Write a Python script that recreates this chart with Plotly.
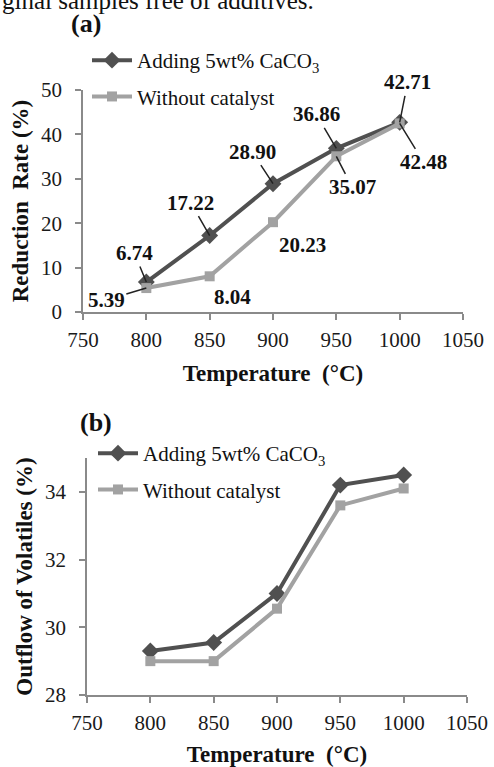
import plotly.graph_objects as go

temps = [800, 850, 900, 950, 1000]
reduction_caco3 = [6.74, 17.22, 28.90, 36.86, 42.71]
reduction_none = [5.39, 8.04, 20.23, 35.07, 42.48]
outflow_caco3 = [29.3, 29.55, 31.0, 34.2, 34.5]
outflow_none = [29.0, 29.0, 30.55, 33.6, 34.1]
name_caco3 = "Adding 5wt% CaCO<sub>3</sub>"
name_none = "Without catalyst"
xticks = [750, 800, 850, 900, 950, 1000, 1050]

DARK = "#505050"
LIGHT = "#a2a2a2"
AX = "#8a8a8a"
FONT = "Liberation Serif"

W, H = 494, 767
def px(v): return v / W
def py(v): return 1 - v / H

fig = go.Figure()
# (a)
fig.add_trace(go.Scatter(x=temps, y=reduction_caco3, name=name_caco3, mode="lines+markers",
                         line=dict(color=DARK, width=4), marker=dict(symbol="diamond", size=13, color=DARK),
                         xaxis="x", yaxis="y", legend="legend", legendgroup="a1"))
fig.add_trace(go.Scatter(x=temps, y=reduction_none, name=name_none, mode="lines+markers",
                         line=dict(color=LIGHT, width=4), marker=dict(symbol="square", size=10, color=LIGHT),
                         xaxis="x", yaxis="y", legend="legend", legendgroup="a2"))
# (b)
fig.add_trace(go.Scatter(x=temps, y=outflow_caco3, name=name_caco3, mode="lines+markers",
                         line=dict(color=DARK, width=4), marker=dict(symbol="diamond", size=13, color=DARK),
                         xaxis="x2", yaxis="y2", legend="legend2", legendgroup="b1"))
fig.add_trace(go.Scatter(x=temps, y=outflow_none, name=name_none, mode="lines+markers",
                         line=dict(color=LIGHT, width=4), marker=dict(symbol="square", size=10, color=LIGHT),
                         xaxis="x2", yaxis="y2", legend="legend2", legendgroup="b2"))

axis_common = dict(showline=True, linecolor=AX, linewidth=1.5, ticks="outside", ticklen=6,
                   tickcolor=AX, tickwidth=1.5, showgrid=False, zeroline=False, automargin=False,
                   tickfont=dict(family=FONT, size=21, color="#1a1a1a"))
title_font = dict(family=FONT, size=23, color="#111")

fig.update_layout(
    template="none",
    width=W, height=H, margin=dict(l=0, r=0, t=0, b=0, autoexpand=False),
    paper_bgcolor="white", plot_bgcolor="white",
    showlegend=True,
    xaxis=dict(domain=[px(83), px(463)], range=[750, 1050], tickvals=xticks, anchor="y",
               title=dict(text="<b>Temperature  (°C)</b>", font=title_font, standoff=14),
               ticklabelstandoff=2, **axis_common),
    yaxis=dict(domain=[py(312), py(90)], range=[0, 50], dtick=10, anchor="x",
               title=dict(text="<b>Reduction  Rate (%)</b>", font=title_font, standoff=6),
               ticklabelstandoff=9, **axis_common),
    xaxis2=dict(domain=[px(87), px(467)], range=[750, 1050], tickvals=xticks, anchor="y2",
                title=dict(text="<b>Temperature  (°C)</b>", font=title_font, standoff=12),
                ticklabelstandoff=2, **axis_common),
    yaxis2=dict(domain=[py(695), py(458)], range=[28, 35], tickvals=[28, 30, 32, 34], anchor="x2",
                title=dict(text="<b>Outflow of Volatiles (%)</b>", font=title_font, standoff=6),
                ticklabelstandoff=9, **axis_common),
    legend=dict(x=px(87), y=py(40), xanchor="left", yanchor="top", bgcolor="rgba(0,0,0,0)",
                font=dict(family=FONT, size=21, color="#111"), tracegroupgap=6, itemwidth=40),
    legend2=dict(x=px(93), y=py(433), xanchor="left", yanchor="top", bgcolor="rgba(0,0,0,0)",
                 font=dict(family=FONT, size=21, color="#111"), tracegroupgap=6, itemwidth=40),
)

ann = []
ann.append(dict(text="ginal samples free of additives.", xref="paper", yref="paper", x=0, y=py(16),
                xanchor="left", yanchor="bottom", showarrow=False,
                font=dict(family=FONT, size=25, color="#111")))
ann.append(dict(text="<b>(a)</b>", xref="paper", yref="paper", x=px(86), y=py(24),
                xanchor="center", yanchor="middle", showarrow=False,
                font=dict(family=FONT, size=26, color="#111")))
ann.append(dict(text="<b>(b)</b>", xref="paper", yref="paper", x=px(96), y=py(422),
                xanchor="center", yanchor="middle", showarrow=False,
                font=dict(family=FONT, size=26, color="#111")))

# data labels (offsets in pixels from point: ax, ay; leader=True draws leader line)
label_a = [
    (0, reduction_caco3, -12, -29, True),
    (1, reduction_caco3, -19, -33, True),
    (2, reduction_caco3, -21, -32, True),
    (3, reduction_caco3, -20, -34, True),
    (4, reduction_caco3, 8, -40, True),
]
label_b = [
    (0, reduction_none, -40, 12, True),
    (1, reduction_none, 23, 21, False),
    (2, reduction_none, 29, 23, False),
    (3, reduction_none, 16, 31, True),
    (4, reduction_none, 24, 39, True),
]
for i, arr, dx, dy, leader in label_a + label_b:
    d = dict(text="<b>%.2f</b>" % arr[i], xref="x", yref="y", x=temps[i], y=arr[i],
             font=dict(family=FONT, size=21, color="#111"))
    if leader:
        d.update(showarrow=True, ax=dx, ay=dy, arrowhead=0, arrowwidth=1.5, arrowcolor="#222", standoff=0)
    else:
        d.update(showarrow=False, xshift=dx, yshift=-dy)
    ann.append(d)

fig.update_layout(annotations=ann)
fig.write_html("out.html")
